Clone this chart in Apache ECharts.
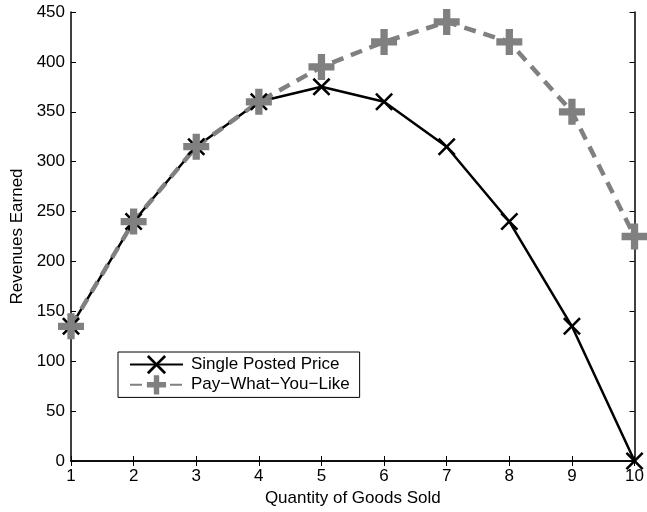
<!DOCTYPE html>
<html>
<head>
<meta charset="utf-8">
<script src="https://cdn.jsdelivr.net/npm/echarts@6/dist/echarts.min.js"></script>
<style>
  html, body { margin: 0; padding: 0; background: #fff; }
  #chart { width: 647px; height: 512px; }
</style>
</head>
<body>
<div id="chart"></div>
<script>
var quantities = [1, 2, 3, 4, 5, 6, 7, 8, 9, 10];
var singlePrice = [135, 240, 315, 360, 375, 360, 315, 240, 135, 0];
var payWhatYouLike = [135, 240, 315, 360, 395, 420, 440, 420, 350, 225];
var seriesNames = ['Single Posted Price', 'Pay\u2212What\u2212You\u2212Like'];

// filled shapes for the markers (x and plus)
var xMark = 'path://M0,10L10,0L50,40L90,0L100,10L60,50L100,90L90,100L50,60L10,100L0,90L40,50Z';
var plusMark = 'path://M36,0L64,0L64,36L100,36L100,64L64,64L64,100L36,100L36,64L0,64L0,36L36,36Z';

function pairs(xs, ys) {
  var out = [];
  for (var i = 0; i < xs.length; i++) {
    out.push([xs[i], ys[i]]);
  }
  return out;
}

var font = 'Liberation Sans';
var axisText = { color: '#000', fontFamily: font, fontSize: 17 };

var myChart = echarts.init(document.getElementById('chart'), null, { renderer: 'canvas' });

var option = {
  animation: false,
  backgroundColor: '#fff',
  grid: { left: 71, right: 8, top: 12, bottom: 51 },
  xAxis: [
    {
      type: 'value', min: 1, max: 10, interval: 1,
      name: 'Quantity of Goods Sold', nameLocation: 'middle', nameGap: 26,
      nameTextStyle: axisText,
      axisLine: { lineStyle: { color: '#000', width: 1.5 } },
      axisTick: { inside: true, length: 5, lineStyle: { color: '#000' } },
      axisLabel: { color: '#000', fontFamily: font, fontSize: 17, margin: 7 },
      splitLine: { show: false }
    },
    {
      type: 'value', min: 1, max: 10, interval: 1, position: 'top',
      axisLine: { lineStyle: { color: '#000', width: 1.5 } },
      axisTick: { inside: true, length: 5, lineStyle: { color: '#000' } },
      axisLabel: { show: false },
      splitLine: { show: false }
    }
  ],
  yAxis: [
    {
      type: 'value', min: 0, max: 450, interval: 50,
      name: 'Revenues Earned', nameLocation: 'middle', nameGap: 44,
      nameTextStyle: axisText,
      axisLine: { show: true, lineStyle: { color: '#000', width: 1.5 } },
      axisTick: { show: true, inside: true, length: 5, lineStyle: { color: '#000' } },
      axisLabel: { color: '#000', fontFamily: font, fontSize: 17, margin: 6 },
      splitLine: { show: false }
    },
    {
      type: 'value', min: 0, max: 450, interval: 50, position: 'right',
      axisLine: { show: true, lineStyle: { color: '#000', width: 1.5 } },
      axisTick: { show: true, inside: true, length: 5, lineStyle: { color: '#000' } },
      axisLabel: { show: false },
      splitLine: { show: false }
    }
  ],
  legend: {
    orient: 'vertical',
    left: 118, top: 352,
    padding: [3, 10, 3, 11],
    itemGap: 1,
    itemWidth: 53,
    itemHeight: 24,
    borderColor: '#000',
    borderWidth: 1,
    borderRadius: 0,
    backgroundColor: '#fff',
    textStyle: { color: '#000', fontFamily: font, fontSize: 17, padding: [0, 0, 0, 3] },
    data: seriesNames
  },
  series: [
    {
      name: seriesNames[0],
      type: 'line',
      data: pairs(quantities, singlePrice),
      clip: false,
      symbol: xMark,
      symbolSize: 18,
      itemStyle: { color: '#000' },
      lineStyle: { color: '#000', width: 2.5 }
    },
    {
      name: seriesNames[1],
      type: 'line',
      data: pairs(quantities, payWhatYouLike),
      clip: false,
      symbol: plusMark,
      symbolSize: 26,
      itemStyle: { color: '#808080' },
      lineStyle: { color: '#808080', width: 4.5, type: [12, 8] }
    }
  ]
};
myChart.setOption(option);
</script>
</body>
</html>
